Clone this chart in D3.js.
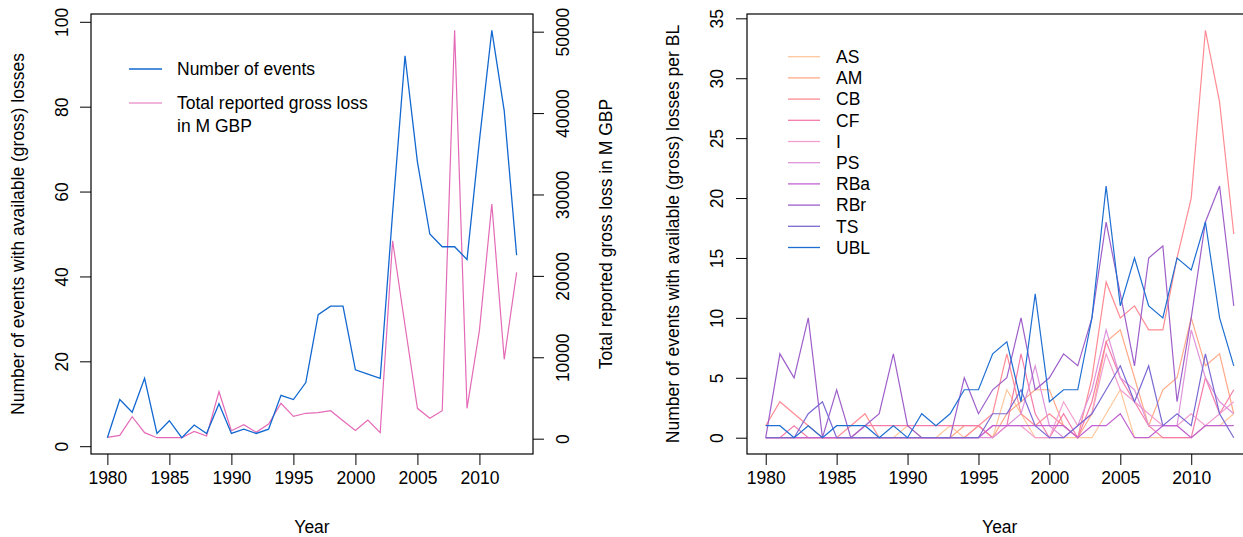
<!DOCTYPE html>
<html>
<head>
<meta charset="utf-8">
<script src="https://cdn.jsdelivr.net/npm/d3@7"></script>
<style>
  body { margin: 0; background: #fff; }
  text { font-family: "Liberation Sans", Arial, sans-serif; }
</style>
</head>
<body>
<div id="chart"></div>
<script>
// years shared by both panels
const years = d3.range(1980, 2014);
const xTicks = [1980, 1985, 1990, 1995, 2000, 2005, 2010];

// left panel
const events = [2,11,8,16,3,6,2,5,3,10,3,4,3,4,12,11,15,31,33,33,18,17,16,55,92,67,50,47,47,44,72,98,79,45];
const lossGBP = [150,400,2700,740,120,130,120,900,330,5770,980,1720,790,1800,4350,2750,3120,3200,3440,2200,1000,2300,740,24300,13900,3730,2500,3440,50170,3730,13300,28830,9750,20440];
const leftTicks = [0, 20, 40, 60, 80, 100];
const lossTicks = [0, 10000, 20000, 30000, 40000, 50000];

// right panel: events per business line
const blNames = ["AS","AM","CB","CF","I","PS","RBa","RBr","TS","UBL"];
const blColors = ["#FFC79C","#FFAA88","#FF8C94","#F57CAA","#F39ECF","#DE93DA","#C263D2","#9E5FCA","#7B69D2","#1F6FD2"];
const AS  = [0,0,0,0,0,0,0,0,0,0,1,0,0,1,0,1,0,4,2,0,0,0,0,0,2,4,0,0,0,0,0,1,1,2];
const AM  = [0,0,0,0,0,0,0,0,0,0,0,0,0,0,1,1,0,2,3,4,4,1,0,2,8,9,5,1,4,5,10,6,7,2];
const CB  = [1,3,2,1,0,0,1,2,0,0,0,0,0,0,0,1,2,7,2,1,2,1,0,5,13,10,11,9,9,15,20,34,28,17];
const CF  = [0,0,1,0,0,0,0,1,1,1,1,1,1,1,1,1,0,1,7,2,0,2,0,3,8,5,3,1,0,0,0,5,2,4];
const I   = [0,0,0,0,0,0,0,0,0,0,0,0,0,0,0,0,1,1,1,0,0,3,1,2,7,4,3,2,1,1,2,1,2,3];
const PS  = [0,0,0,0,0,0,0,0,0,0,0,0,0,0,0,0,0,1,2,6,1,0,1,4,9,5,4,1,1,1,9,5,3,2];
const RBa = [0,0,0,0,0,0,0,0,0,0,0,0,0,0,0,0,1,1,1,1,1,1,0,1,1,2,0,0,1,1,0,1,1,1];
const RBr = [0,7,5,10,0,4,0,1,2,7,1,0,0,0,5,2,4,5,10,4,5,7,6,10,18,12,6,15,16,3,10,18,21,11];
const TS  = [0,0,0,2,3,0,0,0,0,0,0,0,0,0,0,0,2,2,4,1,0,0,1,2,4,6,3,6,1,2,1,7,2,0];
const UBL = [1,1,0,1,0,1,1,1,0,1,0,2,1,2,4,4,7,8,3,12,3,4,4,10,21,11,15,11,10,15,14,18,10,6];
const blValues = [AS, AM, CB, CF, I, PS, RBa, RBr, TS, UBL];
const rightTicks = [0, 5, 10, 15, 20, 25, 30, 35];

const blue = "#1268D0", pink = "#E46AB7";
const fs = "17.5px";

const svg = d3.select("#chart").append("svg")
  .attr("width", 1243).attr("height", 537);

// R style range: data range widened by 4% each side
function rpad(lo, hi) {
  const d = (hi - lo) * 0.04;
  return [lo - d, hi + d];
}

function rotateLabels(g, dist) {
  g.selectAll(".tick text")
    .attr("x", 0).attr("dy", 0)
    .attr("y", dist)
    .attr("transform", "rotate(-90)")
    .style("text-anchor", "middle");
}

function styleAxis(g) {
  g.select(".domain").remove();
  g.selectAll(".tick line").attr("stroke", "#000");
  g.selectAll(".tick text").attr("fill", "#000").style("font-size", fs)
    .style("font-family", "'Liberation Sans', Arial, sans-serif");
}

const plotTop = 14, plotBottom = 454;

// ---------- left panel ----------
const x1 = d3.scaleLinear().domain(rpad(1980, 2013)).range([91, 533]);
const y1 = d3.scaleLinear().domain(rpad(d3.min(events), d3.max(events))).range([plotBottom, plotTop]);
const y1r = d3.scaleLinear().domain(rpad(d3.min(lossGBP), d3.max(lossGBP))).range([plotBottom, plotTop]);

svg.append("g")
  .attr("transform", `translate(0,${plotBottom})`)
  .call(d3.axisBottom(x1).tickValues(xTicks).tickFormat(d3.format("d")).tickSize(11).tickPadding(7))
  .call(styleAxis);

svg.append("g")
  .attr("transform", `translate(${x1.range()[0]},0)`)
  .call(d3.axisLeft(y1).tickValues(leftTicks).tickSize(11))
  .call(styleAxis)
  .call(g => rotateLabels(g, -23));

svg.append("g")
  .attr("transform", `translate(${x1.range()[1]},0)`)
  .call(d3.axisRight(y1r).tickValues(lossTicks).tickFormat(d3.format("d")).tickSize(11))
  .call(styleAxis)
  .call(g => rotateLabels(g, 36));

svg.append("rect")
  .attr("x", 91).attr("y", plotTop).attr("width", 533 - 91).attr("height", plotBottom - plotTop)
  .attr("fill", "none").attr("stroke", "#000").attr("stroke-width", 1.2);

const line1 = d3.line().x((d, i) => x1(years[i])).y(d => y1(d));
const line1r = d3.line().x((d, i) => x1(years[i])).y(d => y1r(d));

svg.append("path").datum(lossGBP).attr("d", line1r)
  .attr("fill", "none").attr("stroke", pink).attr("stroke-width", 1.2);
svg.append("path").datum(events).attr("d", line1)
  .attr("fill", "none").attr("stroke", blue).attr("stroke-width", 1.3);

// legend
const leg1 = svg.append("g").style("font-size", fs);
leg1.append("line").attr("x1", 129).attr("x2", 162).attr("y1", 69).attr("y2", 69).attr("stroke", blue).attr("stroke-width", 1.3);
leg1.append("text").attr("x", 177).attr("y", 69).attr("dy", "0.36em").text("Number of events");
leg1.append("line").attr("x1", 129).attr("x2", 162).attr("y1", 103).attr("y2", 103).attr("stroke", pink).attr("stroke-width", 1.2);
leg1.append("text").attr("x", 177).attr("y", 103).attr("dy", "0.36em").text("Total reported gross loss");
leg1.append("text").attr("x", 177).attr("y", 125.5).attr("dy", "0.36em").text("in M GBP");

svg.append("text")
  .attr("x", (91 + 533) / 2).attr("y", 533)
  .attr("text-anchor", "middle").style("font-size", fs)
  .text("Year");

svg.append("text")
  .attr("transform", `translate(24,${(plotTop + plotBottom) / 2}) rotate(-90)`)
  .attr("text-anchor", "middle").style("font-size", fs)
  .text("Number of events with available (gross) losses");

svg.append("text")
  .attr("transform", `translate(612,${(plotTop + plotBottom) / 2}) rotate(-90)`)
  .attr("text-anchor", "middle").style("font-size", fs)
  .text("Total reported gross loss in M GBP");

// ---------- right panel ----------
const x2 = d3.scaleLinear().domain(rpad(1980, 2013)).range([747, 1252.5]);
const y2 = d3.scaleLinear().domain(rpad(0, d3.max(blValues.flat()))).range([plotBottom, plotTop]);

svg.append("g")
  .attr("transform", `translate(0,${plotBottom})`)
  .call(d3.axisBottom(x2).tickValues(xTicks).tickFormat(d3.format("d")).tickSize(11).tickPadding(7))
  .call(styleAxis);

svg.append("g")
  .attr("transform", `translate(747,0)`)
  .call(d3.axisLeft(y2).tickValues(rightTicks).tickSize(11))
  .call(styleAxis)
  .call(g => rotateLabels(g, -24));

svg.append("rect")
  .attr("x", 747).attr("y", plotTop).attr("width", 1252.5 - 747).attr("height", plotBottom - plotTop)
  .attr("fill", "none").attr("stroke", "#000").attr("stroke-width", 1.2);

const line2 = d3.line().x((d, i) => x2(years[i])).y(d => y2(d));

svg.append("g").selectAll("path")
  .data(blValues)
  .enter().append("path")
  .attr("d", line2)
  .attr("fill", "none")
  .attr("stroke", (d, i) => blColors[i])
  .attr("stroke-width", 1.2);

const leg2 = svg.append("g").style("font-size", fs);
blNames.forEach((n, i) => {
  const yy = 56.7 + i * 21.2;
  leg2.append("line").attr("x1", 788).attr("x2", 820).attr("y1", yy).attr("y2", yy)
    .attr("stroke", blColors[i]).attr("stroke-width", 1.3);
  leg2.append("text").attr("x", 836).attr("y", yy).attr("dy", "0.36em").text(n);
});

svg.append("text")
  .attr("x", (747 + 1252.5) / 2).attr("y", 533)
  .attr("text-anchor", "middle").style("font-size", fs)
  .text("Year");

svg.append("text")
  .attr("transform", `translate(679,${(plotTop + plotBottom) / 2}) rotate(-90)`)
  .attr("text-anchor", "middle").style("font-size", fs)
  .text("Number of events with available (gross) losses per BL");
</script>
</body>
</html>
